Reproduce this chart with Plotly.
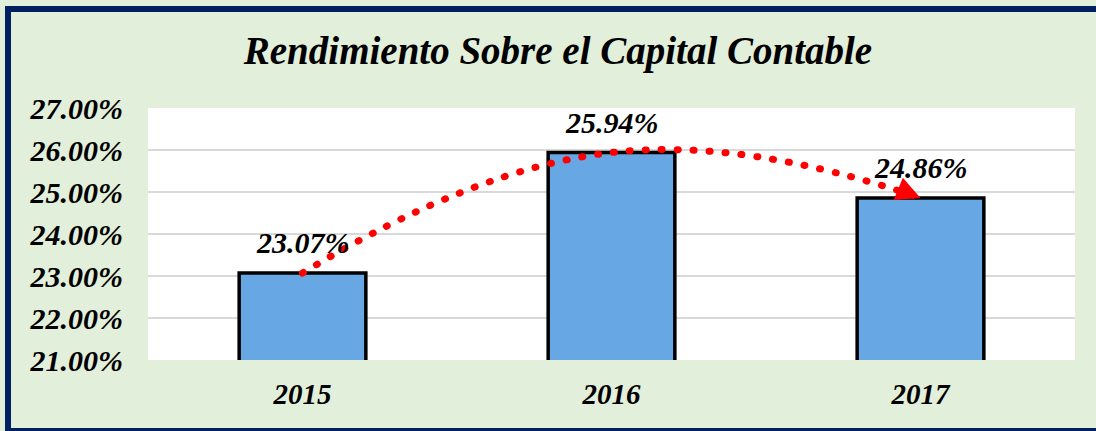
import plotly.graph_objects as go

years = ["2015", "2016", "2017"]
roe = [23.07, 25.94, 24.86]
y_ticks = [21, 22, 23, 24, 25, 26, 27]
y_tick_labels = ["21.00%", "22.00%", "23.00%", "24.00%", "25.00%", "26.00%", "27.00%"]
value_labels = ["23.07%", "25.94%", "24.86%"]
title_text = "Rendimiento Sobre el Capital Contable"

FONT = "Liberation Serif"
W, H = 1096, 431
ML, MR, MT, MB = 148, 21, 108, 71

fig = go.Figure()
fig.add_trace(go.Bar(
    x=years, y=roe, width=0.41,
    marker=dict(color="#67A8E4", line=dict(color="#000000", width=3.5)),
    hoverinfo="skip",
))
fig.add_trace(go.Scatter(
    x=years, y=roe, mode="lines",
    line=dict(color="#FF0000", width=7, dash="1px,15px", shape="spline", smoothing=1.3),
    hoverinfo="skip",
))

annotations = []
for i, (v, lab) in enumerate(zip(roe, value_labels)):
    annotations.append(dict(
        x=i, y=v, text=lab, showarrow=False, yanchor="bottom", yshift=12,
        font=dict(family=FONT, size=30, color="#000000", style="italic", weight="bold"),
    ))
annotations.append(dict(
    x=len(roe) - 1, y=roe[-1], text="", showarrow=True, ax=-22, ay=-9,
    arrowhead=2, arrowsize=1.6, arrowwidth=3, arrowcolor="#FF0000",
))

pw = W - ML - MR
ph = H - MT - MB
def px_x(p):
    return (p - ML) / pw
def px_y(p):
    return (H - MB - p) / ph

fig.update_layout(
    width=W, height=H,
    margin=dict(l=ML, r=MR, t=MT, b=MB),
    paper_bgcolor="#E2EFDA", plot_bgcolor="#FFFFFF",
    showlegend=False,
    title=dict(text=title_text, xref="container", x=558 / W, xanchor="center",
               yref="container", y=1 - 50 / H, yanchor="middle",
               font=dict(family=FONT, size=39, color="#000000", style="italic", weight="bold")),
    xaxis=dict(type="category", range=[-0.5, 2.5], showgrid=False, showline=False, ticks="",
               ticklabelstandoff=14,
               tickfont=dict(family=FONT, size=29, color="#000000", style="italic", weight="bold")),
    yaxis=dict(range=[21, 27], tickvals=y_ticks, ticktext=y_tick_labels,
               showgrid=True, gridcolor="#D9D9D9", gridwidth=2, zeroline=False,
               showline=False, ticks="", ticklabelstandoff=24,
               tickfont=dict(family=FONT, size=30, color="#000000", style="italic", weight="bold")),
    annotations=annotations,
    shapes=[dict(type="rect", xref="paper", yref="paper", layer="above",
                 x0=px_x(8), x1=px_x(1104), y0=px_y(431), y1=px_y(9),
                 line=dict(color="#002060", width=6), fillcolor="rgba(0,0,0,0)")],
)

post = """
document.body.style.margin='0';
var s=document.createElement('style');
s.innerHTML='body{margin:0;} .scatterlayer .js-line{stroke-linecap:round;}';
document.head.appendChild(s);
"""
fig.write_html("out.html", post_script=post, config={"displayModeBar": False})
